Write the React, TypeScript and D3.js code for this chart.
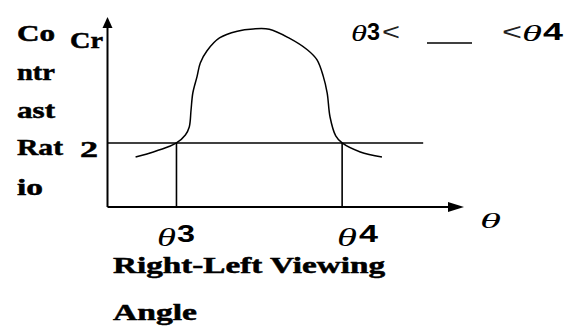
import React from "react";
import * as d3 from "d3";

// Curve: contrast ratio vs. viewing angle (arbitrary angle units)
const curveAngle = [7.9, 12.9, 17.1, 19.4, 21.9, 23.0, 23.5, 24.0, 25.2, 26.1, 28.0, 31.5, 36.5, 41.0, 45.5, 51.0, 56.2, 58.9, 60.7, 61.8, 62.6, 64.2, 66.0, 71.1, 77.2];
const curveRatio = [1.56, 1.72, 1.88, 2.0, 2.25, 2.5, 3.03, 3.56, 4.08, 4.5, 4.88, 5.28, 5.49, 5.56, 5.55, 5.28, 4.91, 4.6, 4.08, 3.56, 2.81, 2.22, 2.0, 1.72, 1.56];

const thresholdRatio = 2;
const thresholdEnd = 88.8;
const theta3 = 19.4;
const theta4 = 66.0;

const xDomain = [0, 100];
const yDomain = [0, 5.84];

const leftLabelLines = ["Co", "ntr", "ast", "Rat", "io"];
const bottomLabelLines = ["Right-Left Viewing", "Angle"];

export default function App() {
  const W = 574, H = 327;
  const x = d3.scaleLinear().domain(xDomain).range([107.5, 463]);
  const y = d3.scaleLinear().domain(yDomain).range([207, 20]);

  const pts: [number, number][] = curveAngle.map((a, i) => [a, curveRatio[i]]);
  const line = d3
    .line<[number, number]>()
    .x((d) => x(d[0]))
    .y((d) => y(d[1]))
    .curve(d3.curveCatmullRom.alpha(0.5));

  const serif = "'Liberation Serif', 'Times New Roman', serif";
  const sans = "'Liberation Sans', Arial, sans-serif";
  const heavy = { stroke: "#000", strokeWidth: 0.5 } as const;

  const leftBaselines = [41, 80, 118, 155, 195];
  const leftWidths = [38, 38, 38, 46, 26];

  const x0 = x(0), yb = y(0);

  const Theta = (px: number, py: number, w: number, fs: number) => (
    <text x={px} y={py} fontFamily={serif} fontStyle="italic" fontSize={fs} textLength={w} lengthAdjust="spacingAndGlyphs">θ</text>
  );

  return (
    <svg
      width={W}
      height={H}
      style={{ position: "fixed", left: 0, top: 0, background: "#fff" }}
    >
      <rect x={0} y={0} width={W} height={H} fill="#fff" />
      {/* axes */}
      <line x1={x0} y1={yb} x2={x0} y2={24} stroke="#000" strokeWidth={2} />
      <path d={`M${x0},17 L${x0 - 5},28 L${x0 + 5},28 Z`} fill="#000" />
      <line x1={x0} y1={yb} x2={452} y2={yb} stroke="#000" strokeWidth={2} />
      <path d={`M464,${yb} L448,${yb - 5} L448,${yb + 5} Z`} fill="#000" />

      {/* threshold line and verticals */}
      <line x1={x0} y1={y(thresholdRatio)} x2={x(thresholdEnd)} y2={y(thresholdRatio)} stroke="#000" strokeWidth={1.6} />
      {[theta3, theta4].map((t, i) => (
        <line key={i} x1={x(t)} y1={y(thresholdRatio)} x2={x(t)} y2={yb} stroke="#000" strokeWidth={1.6} />
      ))}

      {/* curve */}
      <path d={line(pts) || ""} fill="none" stroke="#000" strokeWidth={1.5} />

      {/* left label */}
      {leftLabelLines.map((s, i) => (
        <text
          key={s}
          x={17}
          y={leftBaselines[i]}
          fontFamily={serif}
          fontWeight="bold"
          fontSize={23}
          textLength={leftWidths[i]}
          lengthAdjust="spacingAndGlyphs"
          {...heavy}
        >
          {s}
        </text>
      ))}
      <text x={70} y={48} fontFamily={serif} fontWeight="bold" fontSize={23} textLength={33} lengthAdjust="spacingAndGlyphs" {...heavy}>Cr</text>
      <text x={80} y={157} fontFamily={serif} fontWeight="bold" fontSize={24} textLength={18} lengthAdjust="spacingAndGlyphs" {...heavy}>{String(thresholdRatio)}</text>

      {/* bottom tick labels */}
      {Theta(157, 246, 19, 26)}
      <text x={177} y={242} fontFamily={sans} fontSize={23} fontWeight="bold" textLength={18} lengthAdjust="spacingAndGlyphs">3</text>
      {Theta(337, 246, 20, 26)}
      <text x={359} y={242} fontFamily={sans} fontSize={23} fontWeight="bold" textLength={19} lengthAdjust="spacingAndGlyphs">4</text>
      {Theta(480, 228, 21, 22)}

      {/* bottom label */}
      <text x={113} y={273} fontFamily={serif} fontWeight="bold" fontSize={23} textLength={272} lengthAdjust="spacingAndGlyphs" {...heavy}>{bottomLabelLines[0]}</text>
      <text x={113} y={320} fontFamily={serif} fontWeight="bold" fontSize={23} textLength={84} lengthAdjust="spacingAndGlyphs" {...heavy}>{bottomLabelLines[1]}</text>

      {/* top-right inequality */}
      {Theta(351, 41, 16, 24)}
      <text x={367} y={40} fontFamily={sans} fontSize={24} fontWeight="bold" textLength={13} lengthAdjust="spacingAndGlyphs">3</text>
      <text x={382} y={40} fontFamily={sans} fontSize={24} fill="#222" textLength={18} lengthAdjust="spacingAndGlyphs">&lt;</text>
      <line x1={427} y1={43} x2={472} y2={43} stroke="#000" strokeWidth={1.6} />
      <text x={502} y={40} fontFamily={sans} fontSize={24} fill="#222" textLength={20} lengthAdjust="spacingAndGlyphs">&lt;</text>
      {Theta(522, 41, 20, 24)}
      <text x={543} y={40} fontFamily={sans} fontSize={24} fontWeight="bold" textLength={20} lengthAdjust="spacingAndGlyphs">4</text>
    </svg>
  );
}
